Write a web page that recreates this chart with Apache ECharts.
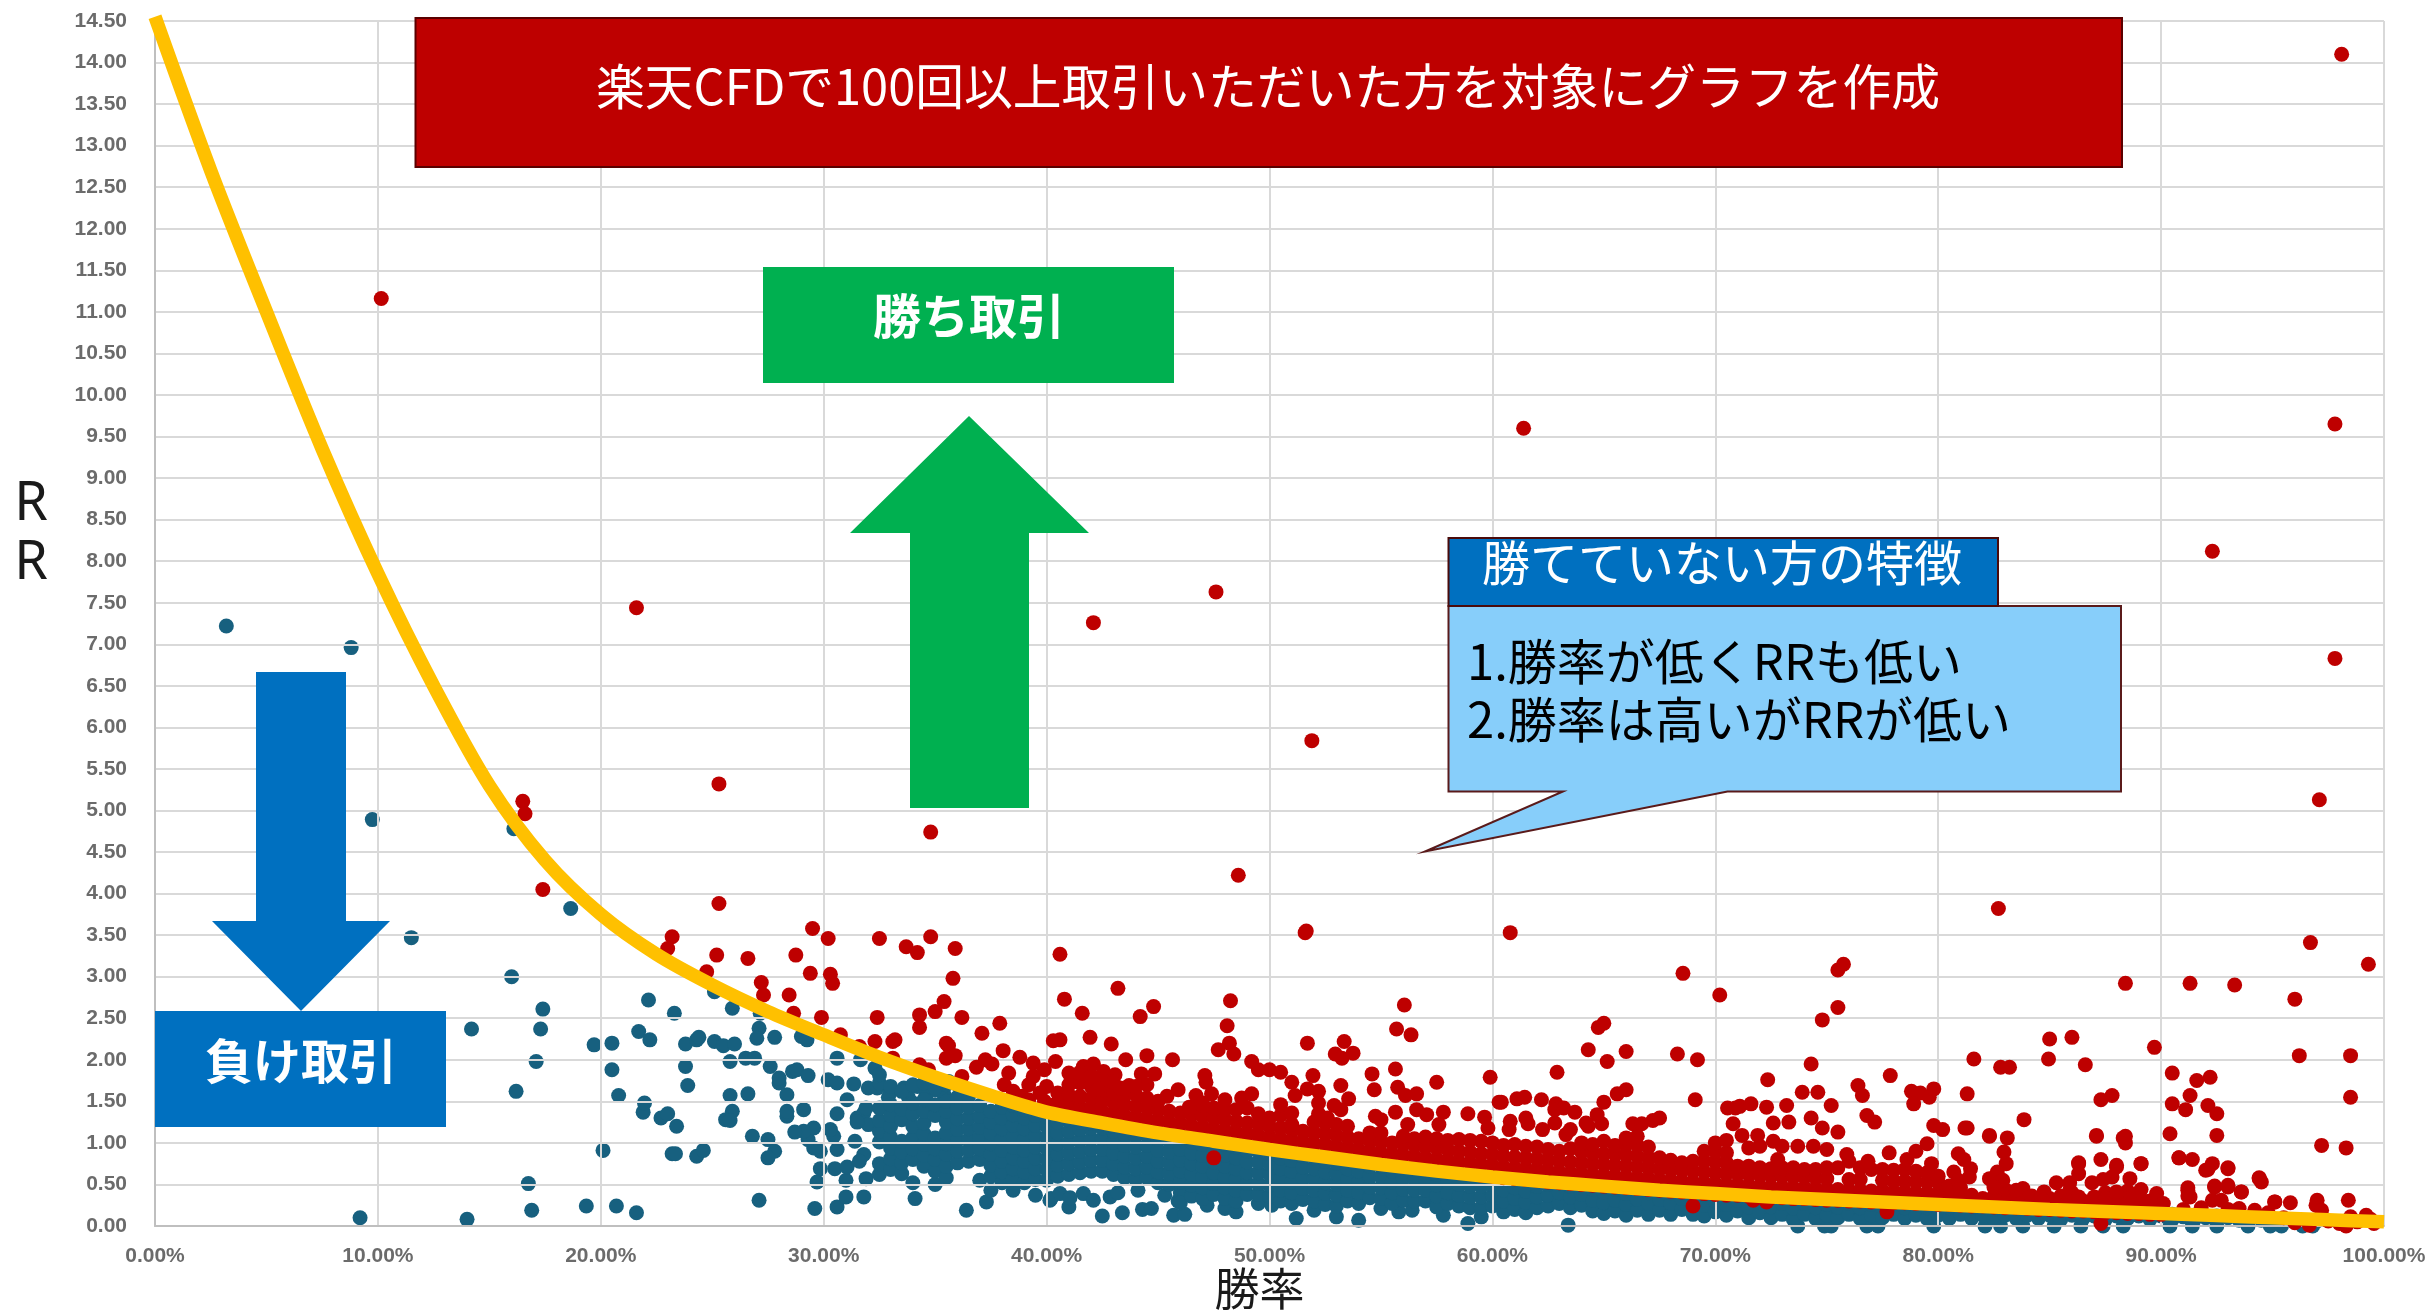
<!DOCTYPE html>
<html><head><meta charset="utf-8">
<style>html,body{margin:0;padding:0;background:#fff}#c{width:2432px;height:1312px}</style>
<script src="https://cdn.jsdelivr.net/npm/echarts@6/dist/echarts.min.js"></script>
</head><body><div id="c"></div>
<script>
// x = win rate (%), y = risk-reward.
const trendCurve=[[0,14.55],[2.5,12.7],[5,11],[7.5,9.35],[10,7.85],[12.5,6.5],[15,5.3],[17.5,4.4],[20,3.75],[22.5,3.27],[25,2.9],[27.5,2.58],[30,2.3],[32.5,2.03],[35,1.79],[37.5,1.57],[40,1.37],[42.5,1.24],[45,1.12],[47.5,1.02],[50,.92],[52.5,.83],[55,.74],[57.5,.66],[60,.59],[62.5,.53],[65,.48],[67.5,.43],[70,.39],[72.5,.35],[75,.32],[77.5,.29],[80,.26],[82.5,.23],[85,.2],[87.5,.175],[90,.15],[92.5,.125],[95,.1],[97.5,.075],[100,.05]];
const lossOutliers=[[3.2,7.22],[8.8,6.96],[9.75,4.89],[16.1,4.78],[18.65,3.82],[11.5,3.47],[16,3],[17.4,2.61],[17.3,2.37],[14.2,2.37],[17.1,1.98],[16.2,1.62],[16.75,.51],[16.9,.19],[9.2,.1],[14,.08],[19.35,.24],[20.7,.24],[21.6,.16],[20.1,.91],[19.7,2.18],[20.5,2.2],[20.5,1.88],[20.8,1.57],[21.7,2.34],[22.14,2.72],[23.3,2.56],[22.2,2.24],[21.9,1.37],[21.96,1.48],[22.7,1.3],[23,1.35],[23.4,1.2],[23.8,2.19],[24.3,2.24],[24.4,2.27],[25.1,2.22],[25.5,2.17],[26,2.19],[23.8,1.92],[23.9,1.69],[25.8,1.98],[26.5,2.02],[26.9,2.02],[27.6,1.92],[25.8,1.57],[26.6,1.59],[25.9,1.38],[25.6,1.28],[25.8,1.27],[26.8,1.08],[27.5,1.04],[27.8,.9],[27.5,.82],[23.2,.87],[23.35,.87],[24.3,.84],[24.6,.91],[27.1,.31],[29.6,.21],[30.6,.23],[31.8,.35],[31,.35],[31,.55],[31.9,.57],[29.7,.53],[29.85,.69],[30.5,.69],[31.05,.71],[31.8,.86],[31.6,.78],[30.6,.92],[29.85,.9],[29.55,.94],[29.3,1.04],[31.4,1.02],[30.45,1.08],[30.3,1.16],[29.55,1.18],[29.1,1.14],[28.7,1.13],[28.35,1.32],[28.35,1.38],[29.1,1.4],[30.6,1.35],[28.35,1.58],[28,1.72],[28,1.78],[28.6,1.86],[28.8,1.88],[29.3,1.81],[30.2,1.76],[30.6,1.72],[31.05,1.52],[31.35,1.71],[30.6,2.02],[31.65,2],[32.3,1.9],[27.1,2.38],[27,2.26],[27.8,2.27],[27.15,2.56],[25.9,2.62],[25.1,2.82],[29,2.28],[29.25,2.24],[31.5,1.3],[31.8,1.36],[32,1.22],[31.9,1.42],[32,1.66],[32.4,1.66],[33,1.62],[33.6,1.66],[34.2,1.68],[35,1.64],[35.6,1.74],[32.9,1.55],[33.8,1.55],[34.6,1.58],[35.4,1.58],[36.2,1.6],[31.5,1.25]];
const lossBottomRow=[[34.1,.33],[36.4,.19],[37.3,.29],[40.2,.33],[41,.23],[42.5,.12],[43.4,.16],[44.3,.2],[44.7,.21],[45.7,.13],[46.2,.14],[47.2,.25],[48,.21],[48.5,.17],[49.5,.27],[50.1,.25],[51.2,.09],[52,.19],[53,.11],[54,.07],[55,.21],[55.8,.17],[56.4,.19],[57.8,.13],[58.9,.03],[59.5,.11],[63.4,.01],[73.7,0],[74.9,0],[75.2,0],[76.8,0],[77.3,0],[79.8,0],[82.1,0],[82.8,0],[83.8,0],[85.2,0],[86.4,0],[87.4,0],[88.3,0],[90.4,0],[91.4,0],[92.5,0],[93.9,0],[94.9,0],[95.4,0],[96.35,0],[96.8,0],[40.15,.31],[40.6,.39],[41.05,.34],[41.65,.39],[42.1,.31],[42.85,.35],[43.2,.4],[44.1,.43],[45.3,.37],[45.9,.3],[46.2,.38],[46,.4]];
// one row per win rate: [x, y, y, y ...]
const lossColumns=[
[32.5,.62,.75,1.01,1.14,1.27,1.42,1.72,1.82],[33,.68,.81,.94,1.07,1.2,1.33,1.46,1.68],[33.5,.63,.76,.89,1.02,1.28,1.41,1.62],[34,.52,.8,.93,1.06,1.2,1.35,1.48,1.7],[34.5,.72,.85,.98,1.11,1.24,1.38,1.52,1.72],[35,.5,.66,.8,.93,1.06,1.33,1.46,1.66],[35.5,.58,.72,.86,.99,1.12,1.25,1.38,1.5,1.7],[36,.76,.9,1.03,1.16,1.29,1.42,1.55,1.7],[36.5,.78,.91,1.04,1.17,1.3,1.43,1.56],[37,.55,.8,.93,1.06,1.19,1.32,1.45],[37.5,.43,.6,.73,.86,.99,1.12,1.25,1.38],[38,.52,.65,.78,.91,1.04,1.17,1.3,1.43,1.5],[38.5,.43,.56,.69,.82,.95,1.08,1.21,1.34,1.45],[39,.52,.65,.78,.91,1.04,1.17,1.3,1.4],[39.5,.37,.56,.69,.82,.95,1.08,1.21,1.33],[40,.55,.68,.81,.94,1.07,1.2,1.32],
[40.5,.6,.73,.86,.99,1.12,1.25,1.33],[41,.62,.75,.88,1.01,1.14,1.27],[41.5,.64,.77,.9,1.03,1.16,1.25],[42,.66,.79,.92,1.05,1.18,1.24],[42.5,.66,.79,.92,1.05,1.18,1.24],[43,.62,.75,.88,1.01,1.14,1.2],[43.5,.58,.71,.84,.97,1.1,1.19],[44,.56,.69,.82,.95,1.08,1.16],[44.5,.58,.71,.84,.97,1.1],[45,.52,.65,.78,.91,1.04,1.12],[45.5,.5,.63,.76,.89,1.02,1.1],[46,.28,.53,.66,.79,.92,1.05,1.08],[46.5,.36,.49,.62,.75,.88,1.01,1.07],[47,.33,.46,.59,.72,.85,.98,1.04],[47.5,.38,.51,.64,.77,.9,1.02],[48,.33,.46,.59,.72,.85,.98],[48.5,.3,.43,.56,.69,.82,.95,.98],[49,.38,.51,.64,.77,.9,.96],[49.5,.38,.51,.64,.77,.9,.94],[50,.36,.49,.62,.75,.88,.92],
[50.5,.3,.43,.56,.69,.82,.9],[51,.27,.4,.53,.66,.79,.88],[51.5,.32,.45,.58,.71,.84,.87],[52,.3,.43,.56,.69,.82,.85],[52.5,.26,.39,.52,.65,.78,.84],[53,.24,.37,.5,.63,.76,.82],[53.5,.3,.43,.56,.69,.8],[54,.27,.4,.53,.66,.78],[54.5,.34,.47,.6,.72,.76],[55,.33,.46,.59,.72],[55.5,.27,.4,.53,.66,.73],[56,.31,.44,.57,.7],[56.5,.3,.43,.56,.69],[57,.3,.43,.56,.67],[57.5,.23,.36,.49,.62,.67],[58,.27,.4,.53,.65],[58.5,.24,.37,.5,.63],[59,.22,.35,.48,.61],[59.5,.22,.35,.48,.6],[60,.24,.37,.5,.59],
[60.5,.17,.3,.43,.56],[61,.2,.33,.46,.57],[61.5,.16,.29,.42,.55],[62,.22,.35,.48,.54],[62.5,.24,.37,.5,.53],[63,.27,.4,.52],[63.5,.22,.35,.48,.51],[64,.25,.38,.5],[64.5,.18,.31,.44,.49],[65,.15,.28,.41,.48],[65.5,.18,.31,.44,.47],[66,.13,.26,.39,.46],[66.5,.19,.32,.45],[67,.14,.27,.4,.44],[67.5,.19,.32,.43],[68,.14,.27,.4,.42],[68.5,.2,.33,.41],[69,.14,.27,.4],[69.5,.12,.25,.38],[70,.17,.3,.39],
[70.5,.13,.26,.37],[71,.18,.31,.37],[71.5,.1,.23,.36],[72,.16,.29,.35],[72.5,.1,.23,.34],[73,.14,.27,.34],[73.5,.08,.21,.33],[74,.14,.27,.33],[74.5,.09,.22,.32],[75,.13,.26,.32],[75.5,.1,.23,.31],[76,.14,.27,.3],[76.5,.09,.22,.3],[77,.13,.26,.29],[77.5,.1,.23,.29],[78,.14,.27],[78.5,.09,.22,.28],[79,.13,.26],[79.5,.09,.22,.27],[80,.13,.26],
[80.5,.09,.22],[81,.14,.24],[81.5,.09,.22],[82,.13,.23],[82.5,.08,.2],[83,.13,.22],[83.5,.09,.21],[84,.13,.2],[84.5,.09,.2],[85,.13,.2],[85.5,.08,.19],[86,.13,.18],[86.5,.09,.18],[87,.12,.17],[87.5,.08,.16],[88,.12,.17],[88.5,.09,.16],[89,.12,.16],[89.5,.08,.15],[90,.12,.15],
[90.5,.08,.14],[91,.11],[91.5,.08,.13],[92,.1],[92.5,.07,.12],[93,.1],[93.5,.07,.11],[94,.09],[94.5,.07],[95,.08],[96,.05],[97,.06],[98,.05]];
const winOutliers=[[98.1,14.1],[10.15,11.16],[97.8,9.65],[61.4,9.6],[92.3,8.12],[47.6,7.63],[21.6,7.44],[42.1,7.26],[97.8,6.83],[51.9,5.84],[25.3,5.32],[16.5,5.11],[16.6,4.96],[97.1,5.13],[34.8,4.74],[48.6,4.22],[17.4,4.05],[25.3,3.88],[82.7,3.82],[51.6,3.53],[60.8,3.53],[96.7,3.41],[99.3,3.15]];
const winScatter20to40=[[23.2,3.48],[23,3.34],[25.2,3.26],[26.6,3.22],[24.75,3.06],[27.2,2.93],[27.3,2.78],[28.45,2.78],[28.75,3.26],[28.65,2.56],[29.5,3.58],[30.2,3.46],[32.5,3.46],[33.7,3.36],[34.2,3.29],[34.8,3.48],[35.9,3.34],[29.4,3.04],[30.3,3.03],[30.4,2.92],[35.8,2.98],[35.4,2.7],[35,2.58],[34.3,2.54],[34.3,2.39],[36.2,2.51],[37.9,2.44],[32.4,2.51],[29.9,2.51],[37.1,2.32],[38.05,2.11],[38.8,2.03],[40.3,2.23],[35.5,2.2],[35.6,2.17],[32.3,2.22],[33.1,2.22],[33.2,2.24],[35.5,2.02],[35.9,2.05],[30.75,2.3],[31.6,2.16],[33.1,2.02],[34.3,1.94],[34.7,1.88],[36.2,1.8],[36.85,1.91],[37.25,2],[37.55,1.95],[39.4,1.96],[39.9,1.88],[38.1,1.7],[38.3,1.84],[39.2,1.7],[40,1.68],[39.7,1.6],[38.5,1.62],[39.4,1.8],[40.4,1.98],[38.9,1.56],[39.2,1.52],[39.9,1.5],[40.2,1.45]];
const winScatter40to60=[[40.6,3.27],[43.2,2.86],[40.8,2.73],[41.6,2.56],[44.8,2.64],[44.2,2.52],[48.25,2.71],[48.1,2.41],[51.65,3.55],[56.05,2.66],[55.7,2.37],[56.35,2.3],[53.35,2.22],[52.95,2.07],[53.75,2.08],[53.25,2.02],[51.7,2.2],[40.6,2.24],[41.95,2.27],[42.9,2.19],[43.55,2],[44.5,2.05],[45.65,2],[41.65,1.92],[42.1,1.95],[41.2,1.79],[43.07,1.82],[42.55,1.86],[44.25,1.83],[44.85,1.83],[45.9,1.64],[43.7,1.69],[44.5,1.7],[45.4,1.56],[48.2,2.2],[47.7,2.12],[48.4,2.07],[49.2,1.98],[49.5,1.88],[50,1.88],[50.5,1.85],[51,1.73],[51.95,1.81],[53.2,1.69],[51.7,1.65],[51.15,1.57],[52.2,1.62],[54.6,1.83],[54.7,1.64],[55.65,1.89],[55.75,1.67],[56.1,1.57],[56.6,1.59],[57.5,1.73],[59.9,1.79],[60.3,1.49],[47.1,1.81],[47.15,1.73],[46.7,1.57],[47.4,1.59],[48,1.52],[48.75,1.54],[49.2,1.59],[46.4,1.43],[47,1.48],[53.55,1.53],[52.9,1.45],[52.2,1.48],[50.5,1.46],[51,1.36],[54.75,1.32],[55,1.28],[55.65,1.37],[56.6,1.4],[57.05,1.34],[57.8,1.37],[58.9,1.35],[59.65,1.31],[56.2,1.22],[57.6,1.22],[59.8,1.18],[47.5,.82],[52.2,1.35],[53.2,1.4],[52.6,1.3],[41.5,1.85],[42,1.8],[42.5,1.76],[43,1.73],[43.3,1.66],[41,1.84],[44,1.68],[42.3,1.65]];
const winScatter60to80=[[60.4,1.49],[61.1,1.53],[61.45,1.55],[62.2,1.52],[62.85,1.47],[62.9,1.85],[62.8,1.4],[63.7,1.37],[63.2,1.42],[60.8,1.26],[61.5,1.3],[61.6,1.23],[62.25,1.16],[62.8,1.24],[64.2,1.24],[64.7,1.34],[64.9,1.23],[64.3,1.2],[64.3,2.12],[65.15,1.98],[66,2.1],[64.75,2.39],[65,2.44],[65,1.49],[65.6,1.59],[66,1.64],[68.3,2.07],[69.2,2],[68.55,3.04],[70.2,2.78],[69.1,1.52],[66.3,1.23],[66.7,1.23],[67.2,1.27],[67.5,1.3],[63.3,1.1],[63.5,1.16],[60.75,1.16],[70.55,1.42],[70.9,1.42],[71.1,1.44],[71.6,1.47],[72.3,1.43],[73.2,1.45],[73.9,1.61],[74.6,1.61],[75.2,1.45],[72.35,1.76],[74.3,1.95],[75.5,2.63],[74.8,2.48],[75.5,3.08],[75.75,3.15],[70.8,1.23],[71.2,1.09],[71.9,1.09],[72.6,1.24],[73.3,1.25],[74.3,1.3],[74.8,1.18],[75.5,1.13],[71.5,.94],[72,.96],[72.6,1.02],[73,.96],[73.7,.96],[74.4,.96],[75,.92],[72.8,.8],[76.4,1.69],[76.6,1.57],[77.85,1.81],[78.8,1.62],[79.2,1.6],[79.6,1.55],[79.8,1.65],[78.9,1.47],[76.8,1.33],[77.15,1.25],[79.8,1.21],[79.5,.99],[79,.9],[77.8,.88],[79.7,.75],[78.6,.8],[76.85,.78],[75.9,.86],[69,.24],[77.7,.17],[71.7,.31],[72.3,.29]];
const winScatter80to100=[[80.2,1.16],[83.85,1.28],[82.3,1.08],[83.1,1.06],[81.2,1.18],[80.9,.87],[81.15,.8],[81.45,.69],[80.7,.65],[80.9,.55],[81.4,.59],[82.95,.89],[83.05,.75],[82.65,.65],[82.3,.57],[82.9,.55],[82.5,.47],[83.8,.45],[83.5,.43],[84.75,.41],[85.3,.52],[85.9,.52],[85.9,.43],[86.3,.35],[86.9,.52],[87.4,.56],[87.8,.59],[88,.71],[86.3,.75],[86.3,.63],[87.3,.8],[89.1,.75],[87.1,1.08],[88.3,1.06],[88.4,1],[88.6,.57],[88.65,.35],[89.1,.44],[88,.41],[89.8,.39],[90.1,.27],[90.8,.82],[91.4,.8],[92,.67],[92.3,.75],[93,.69],[92.4,.47],[93,.47],[93.6,.41],[91.2,.43],[91.3,.35],[92.3,.31],[92.7,.31],[94.4,.57],[94.5,.53],[95.1,.29],[95.8,.28],[97,.31],[96.95,.25],[97.2,.19],[98.4,.31],[98.5,.11],[99.2,.13],[93.5,.21],[94.2,.19],[87.3,.03],[98.3,0],[96.65,.01],[99.55,.03],[81.6,2.01],[82.8,1.91],[83.2,1.91],[85,2.25],[86,2.27],[84.95,2.01],[86.6,1.94],[89.7,2.15],[88.4,2.92],[91.3,2.92],[93.3,2.9],[96,2.73],[96.2,2.05],[98.5,2.05],[98.5,1.55],[97.2,.97],[98.3,.94],[90.5,1.84],[91.6,1.75],[92.2,1.79],[91.3,1.57],[90.5,1.47],[91.1,1.4],[92.1,1.45],[92.5,1.35],[92.5,1.09],[90.4,1.11],[81.3,1.59],[81.3,1.18],[82.3,1.09],[87.1,1.09],[87.3,1.52],[87.8,1.57],[88.4,1.08],[86.3,.76],[88,.73],[89.1,.75],[90.8,.82],[92.1,.68],[93,.7],[94.4,.58],[93.6,.41],[92.4,.48],[93,.49],[91.2,.46],[91.2,.36],[95.1,.29],[84.2,.36],[84.6,.33],[85.5,.33],[87,.35],[87.5,.33],[89.2,.3],[90,.2],[91,.2],[91.8,.22],[93,.2],[94.8,.16],[95.5,.1],[96,.04],[97.5,.06],[98,.03],[98.8,.05],[99.4,.08]];
const winColumns=[
[40.5,1.36,1.49,1.6],[41,1.33,1.46,1.58,1.7],[41.5,1.3,1.43,1.56,1.72],[42,1.28,1.41,1.54,1.68],[42.5,1.25,1.38,1.51,1.64],[43,1.23,1.36,1.49,1.6],[43.5,1.2,1.33,1.46,1.58],[44,1.18,1.31,1.44,1.58],[44.5,1.16,1.29,1.42,1.54],[45,1.14,1.27,1.4,1.5],[45.5,1.12,1.25,1.38],[46,1.1,1.23,1.36],[46.5,1.08,1.21,1.34,1.42],[47,1.06,1.19,1.32,1.45],[47.5,1.04,1.17,1.3,1.42],[48,1.02,1.15,1.28,1.4],[48.5,1,1.13,1.26,1.4],[49,.98,1.11,1.24,1.42],[49.5,.96,1.09,1.22,1.35],[50,.94,1.07,1.2,1.3],
[50.5,.92,1.05,1.18,1.33],[51,.9,1.03,1.16,1.22],[51.5,.88,1.01,1.14],[52,.86,.99,1.12,1.25],[52.5,.85,.98,1.11,1.24],[53,.83,.96,1.09,1.22],[53.5,.81,.94,1.07,1.2],[54,.79,.92,1.05],[54.5,.77,.9,1.03,1.12],[55,.75,.88,1.01,1.12],[55.5,.74,.87,1],[56,.72,.85,.98,1.08],[56.5,.71,.84,.97,1.05],[57,.69,.82,.95,1.07],[57.5,.68,.81,.94,1.05],[58,.66,.79,.92,1.03],[58.5,.64,.77,.9,1.04],[59,.63,.76,.89,1.03],[59.5,.61,.74,.87,1.02],[60,.6,.73,.86,1],
[60.5,.58,.71,.84,.97],[61,.57,.7,.83,.98],[61.5,.56,.69,.82,.96],[62,.55,.68,.81,.95],[62.5,.53,.66,.79,.92],[63,.52,.65,.78,.9],[63.5,.51,.64,.77,.93],[64,.5,.63,.76,.89,1],[64.5,.49,.62,.75,.88,.98],[65,.48,.61,.74,.87,1.02],[65.5,.47,.6,.73,.86,.97],[66,.46,.59,.72,.85,.98,1.06],[66.5,.45,.58,.71,.84,.97,1.08],[67,.44,.57,.7,.82,.95],[67.5,.43,.56,.69,.82],[68,.42,.55,.68,.79],[68.5,.41,.54,.67,.76],[69,.4,.53,.66,.78],[69.5,.39,.52,.65,.78,.9],[70,.38,.51,.64,.77,.9,1],
[70.5,.37,.5,.63,.76,.88,1.03],[71,.37,.5,.63,.72],[71.5,.36,.49,.62,.72],[72,.35,.48,.61,.7],[72.5,.34,.47,.6,.69],[73,.34,.47,.6,.7],[73.5,.33,.46,.59,.7],[74,.33,.46,.59,.68],[74.5,.32,.45,.58,.68],[75,.31,.44,.57,.7],[75.5,.31,.44,.7],[76,.3,.43,.56,.78],[76.5,.3,.43,.56,.7],[77,.29,.42,.68],[77.5,.29,.42,.55,.68],[78,.28,.41,.54,.67],[78.5,.28,.41,.54,.68],[79,.27,.4,.53,.66],[79.5,.27,.4,.53,.64],[80,.26,.39,.52,.6],
[80.5,.26,.38,.48],[81,.25,.36,.46],[81.5,.24,.37],[82,.24,.33],[82.5,.23,.36],[83,.22,.35,.44],[83.5,.22,.32],[84,.21,.34],[84.5,.2,.31],[85,.2,.33],[85.5,.19,.36],[86,.18,.32,.4],[86.5,.18,.3],[87,.17,.3],[87.5,.16,.29,.4],[88,.16,.28,.38],[88.5,.15,.28,.42],[89,.15,.26,.36],[89.5,.14,.3],[90,.14,.24]];

const pts=c=>c.flatMap(r=>r.slice(1).map(y=>[r[0],y]));
const yTickLabel=v=>v.toFixed(2), xTickLabel=v=>v.toFixed(2)+'%';
const cjk='"Noto Sans CJK JP","Noto Sans",sans-serif';
const shape=(type,points,fill,stroke)=>({type:'polygon',z:40,shape:{points},style:{fill,stroke:stroke||null,lineWidth:stroke?2:0}});
const rect=(x,y,w,h,fill,stroke)=>({type:'rect',z:40,shape:{x,y,width:w,height:h},style:{fill,stroke:stroke||null,lineWidth:stroke?2:0}});
const txt=(t,x,y,size,color,weight,align)=>({type:'text',z:41,x,y,style:{text:t,fill:color,font:`${weight||400} ${size}px ${cjk}`,align:align||'center',verticalAlign:'middle'}});

const chart=echarts.init(document.getElementById('c'),null,{renderer:'canvas',width:2432,height:1312});
const gridStyle={show:true,lineStyle:{color:'#D9D9D9',width:2}};
const dot=c=>({color:c,opacity:1});
chart.setOption({
 animation:false,
 backgroundColor:'#fff',
 grid:{left:155,right:48,top:21,bottom:86,containLabel:false,outerBoundsMode:'none'},
 xAxis:{type:'value',min:0,max:100,interval:10,z:1,
  name:'勝率',nameLocation:'middle',nameGap:40,nameMoveOverlap:false,nameTextStyle:{fontFamily:cjk,fontSize:45,color:'#1a1a1a',padding:[0,20,0,0]},
  axisLine:{show:true,onZero:false,lineStyle:{color:'#BFBFBF',width:2}},axisTick:{show:false},
  axisLabel:{formatter:xTickLabel,color:'#6b6b6b',fontWeight:'bold',fontSize:21,fontFamily:'Liberation Sans',margin:20,hideOverlap:false,showMinLabel:true,showMaxLabel:true},
  splitLine:gridStyle},
 yAxis:{type:'value',min:0,max:14.5,interval:.5,z:1,
  axisLine:{show:true,lineStyle:{color:'#BFBFBF',width:2}},axisTick:{show:false},
  axisLabel:{formatter:yTickLabel,color:'#6b6b6b',fontWeight:'bold',fontSize:21,fontFamily:'Liberation Sans',margin:28,hideOverlap:false},
  splitLine:gridStyle},
 series:[
  {name:'負け取引',type:'scatter',z:0,clip:false,symbolSize:15,progressive:0,itemStyle:dot('#17607F'),
   data:[...lossOutliers,...lossBottomRow,...pts(lossColumns)]},
  {name:'勝ち取引',type:'scatter',z:2,clip:false,symbolSize:15,progressive:0,itemStyle:dot('#BE0000'),
   data:[...pts(winColumns),...winOutliers,...winScatter20to40,...winScatter40to60,...winScatter60to80,...winScatter80to100]},
  {name:'損益分岐',type:'line',z:3,clip:false,smooth:.3,showSymbol:false,lineStyle:{color:'#FFC000',width:13.5,cap:'butt'},data:trendCurve}
 ],
 graphic:{elements:[
  {type:'text',z:41,x:31,y:505,style:{text:'R',fill:'#1a1a1a',font:'400 54px "Noto Sans"',align:'center',verticalAlign:'middle'}},
  {type:'text',z:41,x:31,y:564,style:{text:'R',fill:'#1a1a1a',font:'400 54px "Noto Sans"',align:'center',verticalAlign:'middle'}},
  rect(415.5,18,1706.5,149,'#BE0000','#5a0000'),
  txt('楽天CFDで100回以上取引いただいた方を対象にグラフを作成',1268,86,48.8,'#fff'),
  rect(763,267,411,116,'#00B050'),
  txt('勝ち取引',969,316,48,'#fff',700),
  shape('polygon',[[969,416],[1089,533],[1029,533],[1029,808],[910,808],[910,533],[850,533]],'#00B050'),
  shape('polygon',[[256,672],[346,672],[346,921],[390,921],[301,1011],[212,921],[256,921]],'#0070C0'),
  rect(155,1011,291,116,'#0070C0'),
  txt('負け取引',301,1061,48,'#fff',700),
  shape('polygon',[[1448.5,606],[2121,606],[2121,791.5],[1727.5,791.5],[1425,851.5],[1563,791.5],[1448.5,791.5]],'#87CEFA','#5a1a1a'),
  rect(1448.5,538,549.5,68,'#0070C0','#4a0a0a'),
  txt('勝てていない方の特徴',1722,563,48,'#fff'),
  txt('1.勝率が低くRRも低い',1467,661,49,'#000',400,'left'),
  txt('2.勝率は高いがRRが低い',1467,719,49,'#000',400,'left')
 ]}
});
</script></body></html>
